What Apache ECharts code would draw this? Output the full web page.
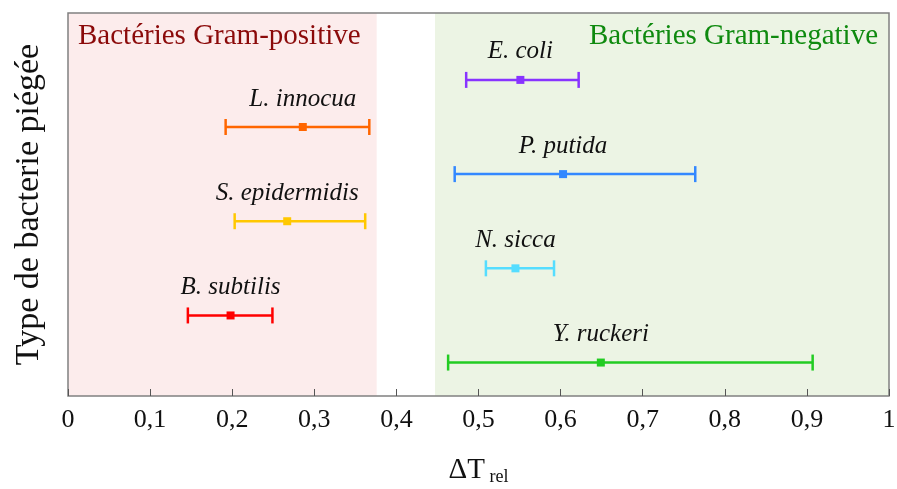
<!DOCTYPE html>
<html><head><meta charset="utf-8">
<script src="https://cdn.jsdelivr.net/npm/echarts@6/dist/echarts.min.js"></script>
<style>html,body{margin:0;padding:0;background:#fff}#c{width:897px;height:489px}</style>
</head><body><div id="c"></div>
<script>
const species = ['E. coli','L. innocua','P. putida','S. epidermidis','N. sicca','B. subtilis','Y. ruckeri'];
const levels = [7,6,5,4,3,2,1];
const centers = [0.551,0.286,0.603,0.267,0.545,0.198,0.649];
const lows = [0.485,0.192,0.471,0.203,0.509,0.146,0.463];
const highs = [0.622,0.367,0.764,0.362,0.592,0.249,0.907];
const colors = ['#8833FF','#FF6600','#3388FF','#FFC800','#55DDFF','#FF0000','#22CC22'];
const xTicks = [0,0.1,0.2,0.3,0.4,0.5,0.6,0.7,0.8,0.9,1];
const bandStarts = [0,0.447];
const bandEnds = [0.376,1];
const bandColors = ['#FCECEC','#ECF4E4'];
const bandLabels = ['Bactéries Gram-positive','Bactéries Gram-negative'];
const yMin = 0.29, yMax = 8.42;

const data = species.map((s,i)=>({value:[centers[i],levels[i],lows[i],highs[i]],name:s,itemStyle:{color:colors[i]}}));
const bands = bandStarts.map((s,i)=>({value:[s,bandEnds[i]],itemStyle:{color:bandColors[i]}}));
const SERIF = '"Liberation Serif", "DejaVu Serif", serif';

const chart = echarts.init(document.getElementById('c'));
chart.setOption({
  animation:false,
  grid:{left:68,right:8,top:13,bottom:93,outerBoundsMode:'none',containLabel:false,show:true,borderColor:'#808080',borderWidth:1.5,backgroundColor:'transparent'},
  xAxis:{type:'value',min:0,max:1,interval:0.1,z:10,
    axisLine:{show:false},splitLine:{show:false},
    axisTick:{show:true,inside:true,length:7,lineStyle:{color:'#555',width:1}},
    axisLabel:{margin:11,fontFamily:SERIF,fontSize:26,color:'#111',
      formatter:v=>String(Math.round(v*10)/10).replace('.',',')},
    name:'{a|ΔT}{b| rel}',nameLocation:'middle',nameGap:58,
    nameTextStyle:{rich:{a:{fontFamily:SERIF,fontSize:29,color:'#111'},b:{fontFamily:SERIF,fontSize:18,color:'#111',padding:[14,0,0,0]}}}
  },
  yAxis:{type:'value',min:yMin,max:yMax,axisLine:{show:false},axisTick:{show:false},axisLabel:{show:false},splitLine:{show:false},
    name:'Type de bacterie piégée',nameLocation:'middle',nameGap:22,
    nameTextStyle:{fontFamily:SERIF,fontSize:34,color:'#111'}},
  graphic:[
    {type:'text',left:78,top:22,z:20,style:{text:bandLabels[0],font:'29px '+SERIF,fill:'#8B0A0A'}},
    {type:'text',right:19,top:22,z:20,style:{text:bandLabels[1],font:'29px '+SERIF,fill:'#0F8A0F'}}
  ],
  series:[{
    type:'custom',
    data:bands,
    z:-5,
    silent:true,
    renderItem:function(params,api){
      const a = api.coord([api.value(0),yMax]);
      const b = api.coord([api.value(1),yMin]);
      return {type:'rect',shape:{x:a[0],y:a[1],width:b[0]-a[0],height:b[1]-a[1]},style:{fill:api.visual('color')}};
    }
  },{
    type:'custom',
    data:data,
    z:3,
    renderItem:function(params,api){
      const c = api.coord([api.value(0),api.value(1)]);
      const lo = api.coord([api.value(2),api.value(1)]);
      const hi = api.coord([api.value(3),api.value(1)]);
      const col = api.visual('color');
      const h = 8;
      const st = {stroke:col,lineWidth:2.5};
      return {type:'group',children:[
        {type:'line',shape:{x1:lo[0],y1:c[1],x2:hi[0],y2:c[1]},style:st},
        {type:'line',shape:{x1:lo[0],y1:c[1]-h,x2:lo[0],y2:c[1]+h},style:st},
        {type:'line',shape:{x1:hi[0],y1:c[1]-h,x2:hi[0],y2:c[1]+h},style:st},
        {type:'rect',shape:{x:c[0]-4,y:c[1]-4,width:8,height:8},style:{fill:col}},
        {type:'text',x:c[0],y:c[1]-28,style:{text:species[params.dataIndex],font:'italic 25px '+SERIF,fill:'#111',align:'center',verticalAlign:'middle'}}
      ]};
    }
  }]
});
</script></body></html>
